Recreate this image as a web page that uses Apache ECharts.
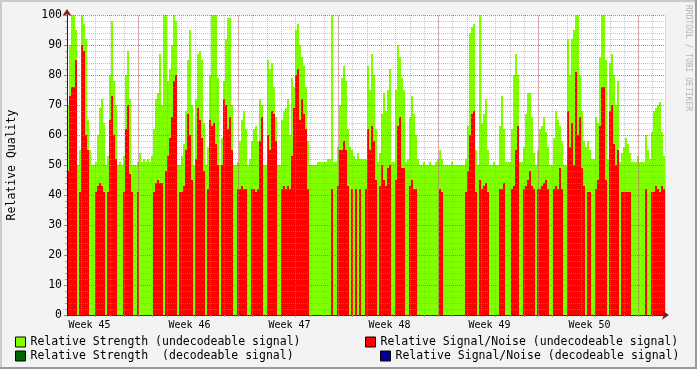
<!DOCTYPE html>
<html>
<head>
<meta charset="utf-8">
<script src="https://cdn.jsdelivr.net/npm/echarts@6/dist/echarts.min.js"></script>
<style>html,body{margin:0;padding:0;background:#f3f3f3}#c{width:697px;height:369px}</style>
</head>
<body>
<div id="c"></div>
<script>
// ---- data (one sample every 0.14 day) ----
const DAYS_PER_SAMPLE = 0.14;
const strengthUndecodeable = [
70,90,100,100,95,50,55,100,97,92, 65,55,50,50,51,60,69,72,64,50, 53,80,98,78,70,50,51,50,53,80, 88,72,50,50,50,51,54,51,52,51, 52,51,53,62,72,74,87,70,100,100,
78,82,90,100,98,50,50,53,57,68, 85,95,70,50,72,87,88,85,64,50, 56,80,100,100,100,79,50,59,78,92, 99,99,70,50,50,51,58,65,68,62, 50,52,58,62,63,58,72,70,50,50,
85,82,84,76,66,50,50,65,68,69, 72,60,79,76,95,97,90,86,83,76, 58,50,50,50,50,51,51,51,51,51, 52,52,100,51,51,56,70,79,83,78, 62,56,55,53,52,54,52,52,52,52,
83,75,87,80,62,51,54,67,74,68, 75,82,51,51,75,90,86,79,75,51, 52,66,73,67,60,52,50,50,51,50, 50,51,50,50,51,52,55,52,50,50, 50,50,51,50,50,50,50,50,50,52,
63,94,96,97,55,50,100,64,67,72, 55,50,50,51,50,50,63,73,62,51, 51,51,62,80,87,80,51,51,56,67, 74,74,66,54,50,55,62,63,66,61, 56,50,50,59,68,65,63,58,50,50,
92,80,92,95,100,100,80,68,58,56, 58,55,52,52,66,64,86,100,100,85, 52,84,87,80,70,78,51,54,56,59, 57,54,51,51,51,53,51,51,51,60, 55,52,61,68,69,70,71,61,53
];
const snrUndecodeable = [
48,73,76,76,85,0,41,90,88,60, 55,0,0,0,41,43,44,43,41,0, 41,65,73,60,52,0,0,0,41,62, 70,47,41,0,0,41,0,0,0,0, 0,0,0,41,44,45,44,44,0,48,
53,59,66,78,80,0,41,41,43,55, 67,60,45,0,52,69,65,59,48,0, 42,65,63,64,57,50,0,50,72,70, 62,66,55,0,0,42,42,43,42,42, 0,0,42,42,41,42,58,66,0,0,
60,55,68,67,58,0,0,42,43,42, 43,42,53,69,80,82,65,72,67,62, 42,0,0,0,0,0,0,0,0,0, 0,0,42,0,0,43,55,55,58,55, 43,0,42,0,42,0,42,0,0,42,
62,55,63,58,45,0,43,50,45,43, 49,50,0,0,45,63,66,49,49,0, 0,43,45,42,42,0,0,0,0,0, 0,0,0,0,0,0,42,41,0,0, 0,0,0,0,0,0,0,0,0,41,
48,60,67,68,41,0,45,42,43,44, 41,0,0,0,0,0,42,42,44,0, 0,0,42,43,55,63,0,0,42,43, 45,48,43,42,0,42,42,43,44,45, 42,0,0,42,43,42,49,42,0,0,
68,56,64,50,81,60,66,49,43,0, 41,41,0,0,42,45,63,76,76,45, 0,68,70,57,50,55,0,41,41,41, 41,41,0,0,0,0,0,0,0,42, 0,0,41,41,43,42,41,43,42
];
const strengthDecodeable = [];
const snrDecodeable = [];
const weekNames = ['Week 45','Week 46','Week 47','Week 48','Week 49','Week 50'];
const weekLabelDays = [1.575, 8.575, 15.575, 22.575, 29.575, 36.575];
const weekStartDays = [5, 12, 19, 26, 33, 40];

const NAMES = [
  'Relative Strength (undecodeable signal)',
  'Relative Strength  (decodeable signal)',
  'Relative Signal/Noise (undecodeable signal)',
  'Relative Signal/Noise (decodeable signal)'
];
const FONT = 'DejaVu Sans Mono';
const FS = 11.5;
const N = strengthUndecodeable.length;
const XMAX = N * DAYS_PER_SAMPLE;
const PLOT_W = 598;
const BAR_PX = PLOT_W / N;

function points(arr) {
  return arr.map((v, i) => [(i + 0.5) * DAYS_PER_SAMPLE, v]);
}
function barSeries(name, arr, color, z) {
  return {
    name, type: 'bar', data: points(arr), barWidth: BAR_PX, barGap: '-100%',
    color, itemStyle: {color, borderWidth: 0}, z, silent: true, animation: false,
    large: false
  };
}

const chart = echarts.init(document.getElementById('c'), null, {renderer: 'canvas'});
const minorGrid = {color: 'rgba(150,150,150,0.55)', type: [1, 1], width: 1};
const majorGrid = {color: 'rgba(170,80,80,0.55)', type: [1, 1], width: 1};
const legendCommon = {
  orient: 'horizontal', padding: 0, icon: 'rect', itemWidth: 10, itemHeight: 10,
  selectedMode: false,
  itemStyle: {borderColor: '#000', borderWidth: 1},
  textStyle: {fontFamily: FONT, fontSize: FS, color: '#000'}
};
const red = '#ff0000', green = '#80ff00', dgreen = '#006400', blue = '#000099';
const snr = barSeries(NAMES[2], snrUndecodeable, red, 3);
snr.markLine = {
  silent: true, symbol: 'none', z: 6, animation: false,
  label: {show: false}, lineStyle: majorGrid,
  data: weekStartDays.map(d => ({xAxis: d}))
};

chart.setOption({
  backgroundColor: '#f3f3f3',
  animation: false,
  grid: {left: 67, top: 15, width: PLOT_W, height: 300, show: true, backgroundColor: '#fff',
    borderWidth: 0, containLabel: false, outerBoundsMode: 'none'},
  xAxis: [{
    type: 'value', min: 0, max: XMAX, interval: 1, z: 5,
    axisLine: {show: true, onZero: false, lineStyle: {color: '#202020', width: 1}},
    axisTick: {show: true, length: 2, lineStyle: {color: '#999'}},
    splitLine: {show: true, lineStyle: minorGrid},
    axisLabel: {
      show: true, customValues: weekLabelDays, margin: 5,
      fontFamily: FONT, fontSize: 10, color: '#000',
      formatter: v => {
        const k = weekLabelDays.findIndex(d => Math.abs(d - v) < 1e-6);
        return k >= 0 ? weekNames[k] : '';
      }
    }
  }, {
    type: 'value', min: 0, max: XMAX, position: 'bottom', z: 7,
    axisLine: {show: true, onZero: false, symbol: ['none', 'arrow'], symbolSize: [7, 7], symbolOffset: [0, 4],
      lineStyle: {color: '#8b1a1a', width: 0.01}},
    axisTick: {show: false}, axisLabel: {show: false}, splitLine: {show: false}
  }],
  yAxis: [{
    type: 'value', min: 0, max: 100, interval: 10, z: 6,
    name: 'Relative Quality', nameLocation: 'middle', nameGap: 49, nameRotate: 90,
    nameTextStyle: {fontFamily: FONT, fontSize: FS, color: '#000'},
    axisLine: {show: true, lineStyle: {color: '#202020', width: 1}},
    axisTick: {show: true, length: 3, lineStyle: {color: '#888'}},
    splitLine: {show: true, lineStyle: majorGrid},
    axisLabel: {margin: 5, fontFamily: FONT, fontSize: FS, color: '#000'}
  }, {
    type: 'value', min: 0, max: 100, interval: 2, z: 4, position: 'left',
    axisLine: {show: true, symbol: ['none', 'arrow'], symbolSize: [7, 7], symbolOffset: [0, 6],
      lineStyle: {color: '#8b1a1a', width: 0.01}},
    axisTick: {show: true, length: 2, lineStyle: {color: '#aaa'}},
    axisLabel: {show: false},
    splitLine: {show: true, lineStyle: minorGrid}
  }],
  legend: [
    Object.assign({left: 15, top: 336, data: [NAMES[0]]}, legendCommon),
    Object.assign({left: 15, top: 350, data: [NAMES[1]]}, legendCommon),
    Object.assign({left: 365, top: 336, data: [NAMES[2]]}, legendCommon),
    Object.assign({left: 380, top: 350, data: [NAMES[3]]}, legendCommon)
  ],
  graphic: [
    {type: 'rect', shape: {x: 0, y: 0, width: 697, height: 2}, style: {fill: '#cbcbcb'}, silent: true},
    {type: 'rect', shape: {x: 0, y: 0, width: 2, height: 369}, style: {fill: '#cbcbcb'}, silent: true},
    {type: 'rect', shape: {x: 0, y: 367, width: 697, height: 2}, style: {fill: '#999'}, silent: true},
    {type: 'rect', shape: {x: 695, y: 0, width: 2, height: 369}, style: {fill: '#999'}, silent: true},
    {type: 'text', x: 688, y: 5, rotation: -Math.PI / 2, silent: true,
      style: {text: 'RRDTOOL / TOBI OETIKER', fontFamily: FONT, fontSize: 8, fill: '#b4b4b4',
        textAlign: 'left', textVerticalAlign: 'middle'}}
  ],
  series: [
    barSeries(NAMES[0], strengthUndecodeable, green, 2),
    snr,
    barSeries(NAMES[1], strengthDecodeable, dgreen, 3),
    barSeries(NAMES[3], snrDecodeable, blue, 3)
  ]
});
</script>
</body>
</html>
